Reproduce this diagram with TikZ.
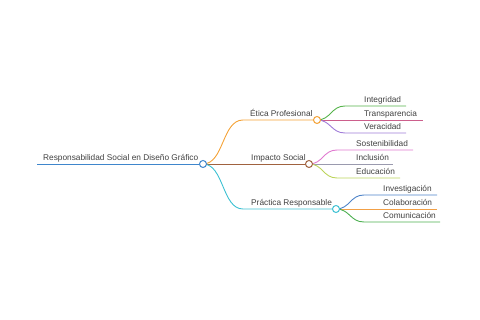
\documentclass[tikz,border=0pt]{standalone}
\usepackage{fontspec}
\setmainfont{Liberation Sans}
\definecolor{rootblue}{HTML}{3F86CC}
\definecolor{etica}{HTML}{F4A236}
\definecolor{impacto}{HTML}{A0623F}
\definecolor{practica}{HTML}{3EC1D3}
\definecolor{integ}{HTML}{55B34A}
\definecolor{transp}{HTML}{CC5F8C}
\definecolor{verac}{HTML}{A07CD8}
\definecolor{sosten}{HTML}{E07AD0}
\definecolor{inclu}{HTML}{9A9AAE}
\definecolor{educa}{HTML}{BCD45A}
\definecolor{invest}{HTML}{4D83C8}
\definecolor{colab}{HTML}{F2A046}
\definecolor{comun}{HTML}{4CAF50}
\begin{document}
\begin{tikzpicture}[x=1pt,y=-1pt,
  lbl/.style={font=\fontsize{8.3}{10}\selectfont, text=black!75, inner sep=0pt, anchor=base west},
  knot/.style={circle, fill=white, inner sep=0pt, minimum size=7pt, line width=1pt},
  edge/.style={line width=0.9pt}]
\useasboundingbox (0,0) rectangle (480,320);
% root
\coordinate (r0) at (37,164);
\coordinate (root) at (203,164);
\node[lbl] (troot) at (43,161) {Responsabilidad Social en Diseño Gráfico};
\draw[edge, rootblue] (r0) -- (root);
% main branches
\coordinate (k1) at (317,120);
\coordinate (k2) at (309,164);
\coordinate (k3) at (336,209);
\draw[edge, etica] (root) .. controls (224,164) and (222,120) .. (243,120) -- (k1);
\draw[edge, impacto] (root) -- (k2);
\draw[edge, practica] (root) .. controls (224,164) and (222,209) .. (243,209) -- (k3);
\node[lbl] (t1) at (250,117) {Ética Profesional};
\node[lbl] (t2) at (251,161) {Impacto Social};
\node[lbl] (t3) at (251,206) {Práctica Responsable};
% Etica Profesional
\coordinate (e1) at (406,106);
\coordinate (e2) at (423,120);
\coordinate (e3) at (406,133);
\draw[edge, integ] (k1) .. controls (331,120) and (331,106) .. (345,106) -- (e1);
\draw[edge, transp] (k1) -- (e2);
\draw[edge, verac] (k1) .. controls (331,120) and (331,133) .. (345,133) -- (e3);
\node[lbl] (t11) at (364,103) {Integridad};
\node[lbl] (t12) at (364,117) {Transparencia};
\node[lbl] (t13) at (364,130) {Veracidad};
% Impacto Social
\coordinate (i1) at (413,150);
\coordinate (i2) at (393,164);
\coordinate (i3) at (400,178);
\draw[edge, sosten] (k2) .. controls (323,164) and (323,150) .. (337,150) -- (i1);
\draw[edge, inclu] (k2) -- (i2);
\draw[edge, educa] (k2) .. controls (323,164) and (323,178) .. (337,178) -- (i3);
\node[lbl] (t21) at (356,147) {Sostenibilidad};
\node[lbl] (t22) at (356,161) {Inclusión};
\node[lbl] (t23) at (356,175) {Educación};
% Practica Responsable
\coordinate (p1) at (437,195);
\coordinate (p2) at (437,209);
\coordinate (p3) at (440,222);
\draw[edge, invest] (k3) .. controls (350,209) and (350,195) .. (364,195) -- (p1);
\draw[edge, colab] (k3) -- (p2);
\draw[edge, comun] (k3) .. controls (350,209) and (350,222) .. (364,222) -- (p3);
\node[lbl] (t31) at (383,192) {Investigación};
\node[lbl] (t32) at (383,206) {Colaboración};
\node[lbl] (t33) at (383,219) {Comunicación};
% knots on top
\node[knot, draw=rootblue] at (root) {};
\node[knot, draw=etica] at (k1) {};
\node[knot, draw=impacto] at (k2) {};
\node[knot, draw=practica] at (k3) {};
\end{tikzpicture}
\end{document}
